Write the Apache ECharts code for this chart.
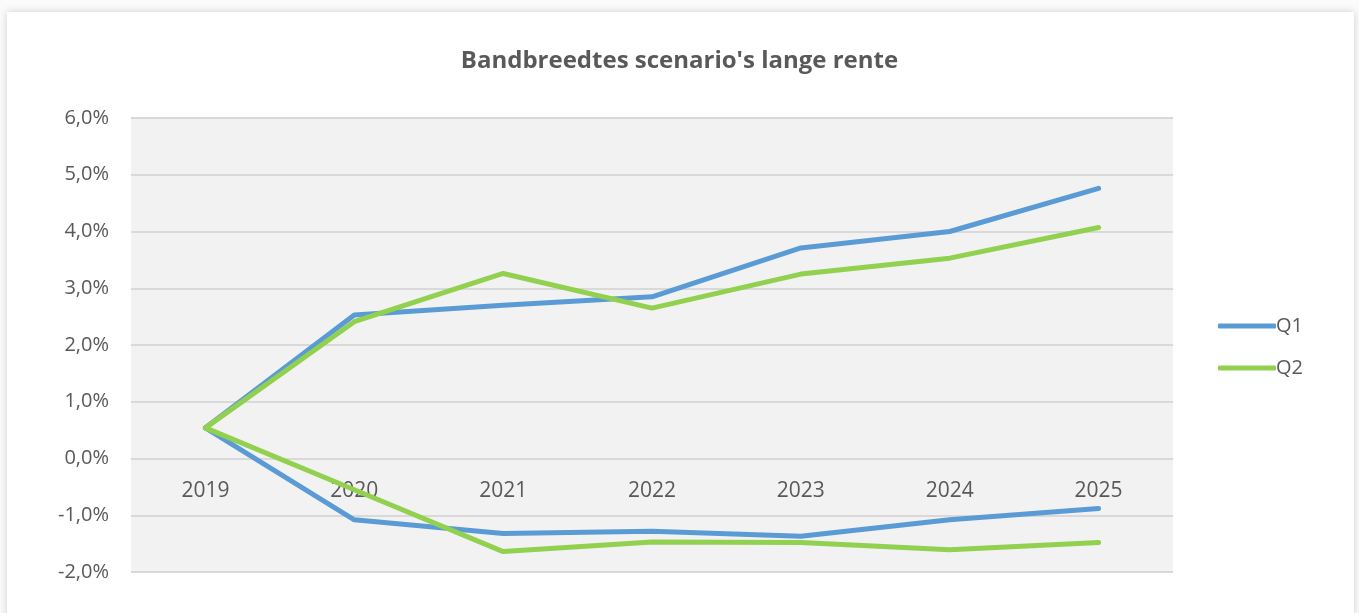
<!DOCTYPE html>
<html>
<head>
<meta charset="utf-8">
<script src="https://cdn.jsdelivr.net/npm/echarts@6/dist/echarts.min.js"></script>
<style>
  html, body { margin: 0; padding: 0; width: 1359px; height: 613px; overflow: hidden; background: #fbfbfb; }
  #card { position: absolute; left: 7px; top: 12px; width: 1347px; height: 640px; background: #fff;
          box-shadow: 0 0 8px rgba(0,0,0,0.18); }
  #chart { position: absolute; left: 0; top: 0; width: 1359px; height: 613px; }
</style>
</head>
<body>
<div id="card"></div>
<div id="chart"></div>
<script>
// Years on the category axis
const years = ['2019', '2020', '2021', '2022', '2023', '2024', '2025'];

// Long-term interest rate scenarios (%), upper and lower band per quartile
const q1Upper = [0.54, 2.53, 2.70, 2.85, 3.71, 4.00, 4.76];
const q1Lower = [0.54, -1.08, -1.32, -1.28, -1.37, -1.08, -0.88];
const q2Upper = [0.54, 2.41, 3.26, 2.65, 3.25, 3.53, 4.07];
const q2Lower = [0.54, -0.55, -1.64, -1.47, -1.48, -1.61, -1.48];

// Value axis range and step (%)
const yMin = -2;
const yMax = 6;
const yStep = 1;

const blue = '#5b9bd5';
const green = '#92d050';
const textColor = '#595959';
const gridColor = '#d9d9d9';

const gridTop = 118;
const gridBottom = 41;
const chartHeight = 613;

function lineSeries(name, data, color) {
  return {
    name: name,
    type: 'line',
    data: data,
    symbol: 'none',
    showSymbol: false,
    lineStyle: { color: color, width: 5, cap: 'round', join: 'round' },
    itemStyle: { color: color },
    emphasis: { disabled: true },
    animation: false
  };
}

// Category axis sits on the 0% line: shift it up from the bottom of the plot
const plotHeight = chartHeight - gridTop - gridBottom;
const zeroShift = plotHeight * (0 - yMin) / (yMax - yMin);

const chart = echarts.init(document.getElementById('chart'));
chart.setOption({
  animation: false,
  title: {
    text: "Bandbreedtes scenario's lange rente",
    left: 'center',
    top: 44,
    textStyle: { color: textColor, fontSize: 24, fontWeight: 'bold', fontFamily: 'Open Sans' }
  },
  legend: {
    orient: 'vertical',
    left: 1213,
    top: 311,
    itemGap: 22,
    itemWidth: 58,
    itemHeight: 5,
    icon: 'roundRect',
    data: ['Q1', 'Q2'],
    textStyle: { color: textColor, fontSize: 20, fontFamily: 'Open Sans', padding: [0, 0, 0, -5] }
  },
  grid: {
    left: 131,
    right: 186,
    top: gridTop,
    bottom: gridBottom,
    show: true,
    backgroundColor: '#f2f2f2',
    borderWidth: 0,
    containLabel: false
  },
  xAxis: {
    type: 'category',
    data: years,
    boundaryGap: true,
    offset: -zeroShift,
    axisLine: { show: false, onZero: false },
    axisTick: { show: false },
    axisLabel: { color: textColor, fontSize: 21, fontFamily: 'Open Sans', margin: 22 },
    splitLine: { show: false }
  },
  yAxis: {
    type: 'value',
    min: yMin,
    max: yMax,
    interval: yStep,
    axisLine: { show: false },
    axisTick: { show: false },
    axisLabel: {
      color: textColor, fontSize: 20, fontFamily: 'Open Sans', margin: 22,
      formatter: v => v.toFixed(1).replace('.', ',') + '%'
    },
    splitLine: { show: true, lineStyle: { color: gridColor, width: 2 } }
  },
  series: [
    lineSeries('Q1', q1Upper, blue),
    lineSeries('Q1', q1Lower, blue),
    lineSeries('Q2', q2Upper, green),
    lineSeries('Q2', q2Lower, green)
  ]
});
</script>
</body>
</html>
